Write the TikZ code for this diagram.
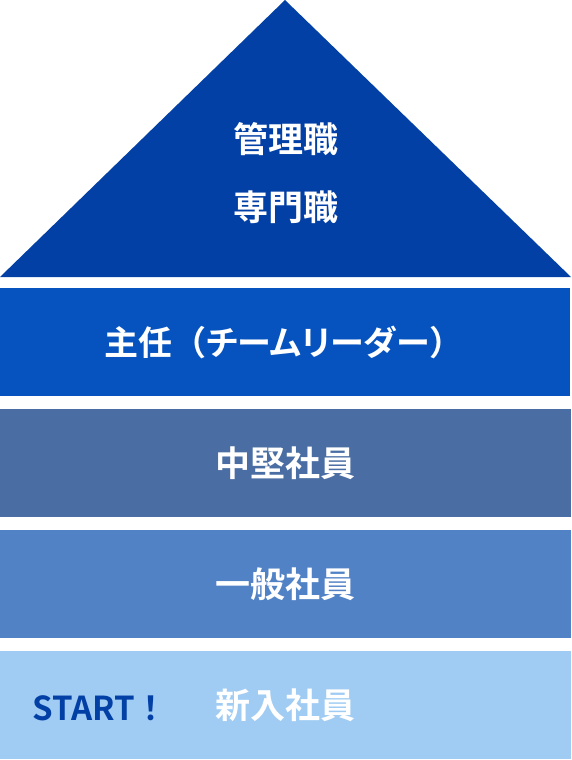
\documentclass[tikz,border=0pt]{standalone}
\usepackage{fontspec}
\newfontfamily\jpb{Noto Sans CJK JP Bold}
\usepackage{xcolor}
\definecolor{pyrtop}{HTML}{0340A6}
\definecolor{pyrlead}{HTML}{0653C0}
\definecolor{pyrmid}{HTML}{4A6EA3}
\definecolor{pyrgen}{HTML}{5282C6}
\definecolor{pyrnew}{HTML}{A0CCF4}
\usepackage{tikz}
\usetikzlibrary{positioning}

\begin{document}
\begin{tikzpicture}[
  x=1pt,y=-1pt,
  font=\jpb\fontsize{35}{40}\selectfont,
  band/.style={minimum width=571pt,minimum height=108pt,inner sep=0pt,text=white},
  lbl/.style={text=white,inner sep=0pt}]
\useasboundingbox (0,0) rectangle (571,760);
\fill[pyrtop] (0,277) -- (285,0) -- (571,277) -- cycle;
\node[lbl] (kanri) at (285.5,139) {管理職};
\node[lbl] (senmon) at (285.5,207) {専門職};
\node[band,fill=pyrlead,font=\jpb\fontsize{34}{40}\selectfont] (shunin) at (284,342) {主任（{\addfontfeature{RawFeature=+palt}チームリーダー}）};
\node[band,fill=pyrmid] (chuken) at (285.5,463) {中堅社員};
\node[band,fill=pyrgen] (ippan) at (285.5,584) {一般社員};
\node[band,fill=pyrnew] (shinnyu) at (285.5,705) {新入社員};
\node[text=pyrtop,inner sep=0pt,anchor=west,font=\jpb\fontsize{33}{40}\selectfont] (start) at (32,708) {START！};
\end{tikzpicture}
\end{document}
